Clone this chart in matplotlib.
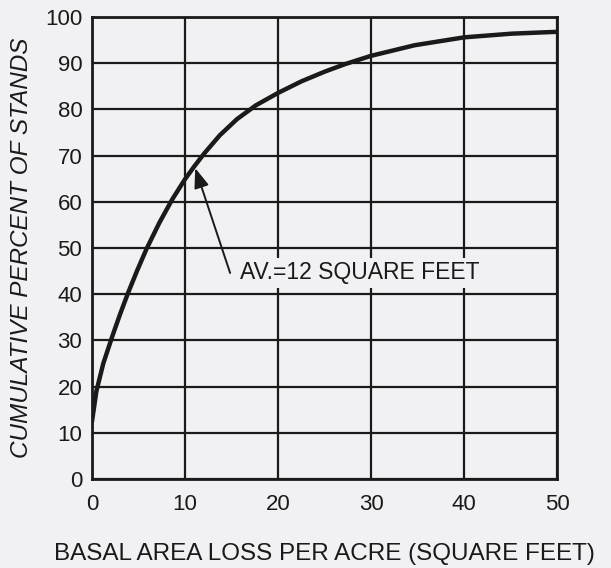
import matplotlib
matplotlib.use("Agg")
import matplotlib.pyplot as plt

loss = [0, 0.47, 1.21, 2.2, 3.04, 3.88, 4.87, 5.86, 7.25, 8.65, 10, 10.97, 12.08,
        13.74, 15.59, 17.63, 20.03, 22.54, 25.05, 27.2, 30, 34.7, 40, 45.1, 50]
cum_pct = [12.5, 19, 25, 31, 35.8, 40.3, 45.2, 49.8, 55.5, 60.6, 64.9, 67.6, 70.5,
           74.4, 77.9, 80.9, 83.6, 86.1, 88.2, 89.8, 91.6, 93.9, 95.6, 96.4, 96.8]
x_ticks = [0, 10, 20, 30, 40, 50]
y_ticks = [0, 10, 20, 30, 40, 50, 60, 70, 80, 90, 100]

plt.rcParams['font.family'] = ['Liberation Sans', 'DejaVu Sans']
bg = '#f1f1f3'
ink = '#1a1a1a'
fig = plt.figure(figsize=(6.11, 5.68), dpi=100, facecolor=bg)
ax = fig.add_axes([0.1506, 0.1567, 0.7610, 0.8133])
ax.set_facecolor(bg)

ax.plot(loss, cum_pct, color=ink, lw=3.2, solid_capstyle='round',
        solid_joinstyle='round', zorder=3)

ax.set_xlim(0, 50)
ax.set_ylim(0, 100)
ax.set_xticks(x_ticks)
ax.set_yticks(y_ticks)
ax.grid(True, color=ink, lw=1.6)
ax.tick_params(axis='x', length=0, labelsize=16, pad=11, colors=ink)
ax.tick_params(axis='y', length=0, labelsize=16, pad=7, colors=ink)
for s in ax.spines.values():
    s.set_color(ink)
    s.set_linewidth(2)

# arrow
ax.annotate('', xy=(11.1, 67.3), xytext=(14.85, 44.6),
            arrowprops=dict(arrowstyle='-|>,head_length=1.2,head_width=0.45', color=ink,
                            lw=1.4, shrinkA=0, shrinkB=0), zorder=4)
ax.text(15.9, 44.6, 'AV.=12 SQUARE FEET', fontsize=16.5, color=ink, va='center', ha='left',
        bbox=dict(boxstyle='square,pad=0.15', fc=bg, ec='none'), zorder=5)

ax.set_xlabel('BASAL AREA LOSS PER ACRE (SQUARE FEET)', fontsize=17.5, color=ink, labelpad=20)
ax.set_ylabel('CUMULATIVE PERCENT OF STANDS', fontsize=17.5, color=ink, style='italic', labelpad=9)

fig.savefig('out.png', dpi=100, facecolor=bg)
